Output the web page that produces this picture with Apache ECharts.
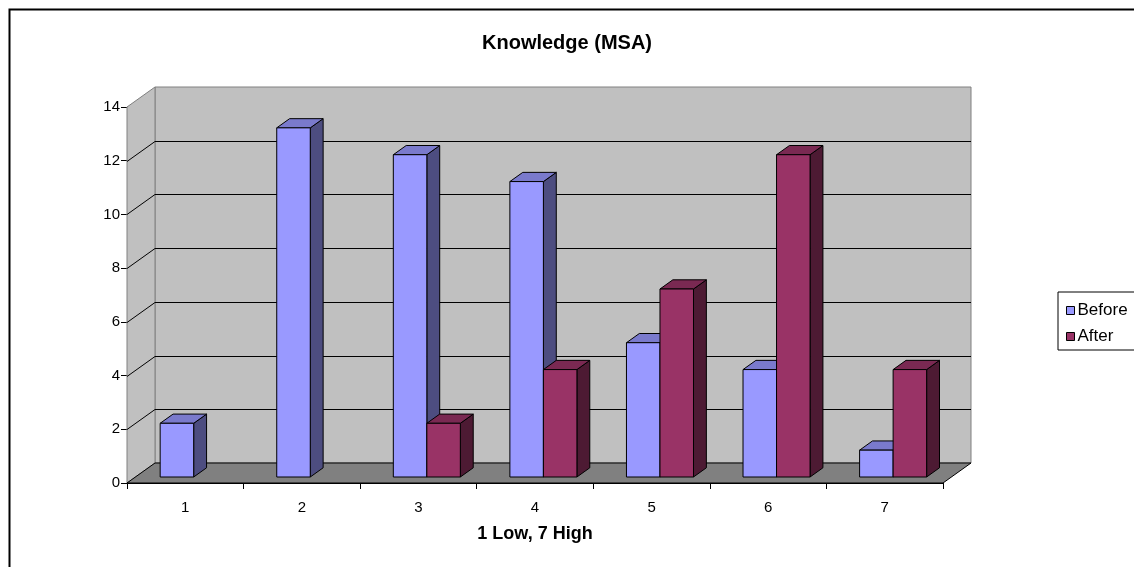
<!DOCTYPE html>
<html>
<head>
<meta charset="utf-8">
<script src="https://cdn.jsdelivr.net/npm/echarts@6/dist/echarts.min.js"></script>
<style>
  html, body { margin: 0; padding: 0; background: #fff; }
  #chart { width: 1134px; height: 567px; }
</style>
</head>
<body>
<div id="chart"></div>
<script>
// Ratings 1..7 and number of answers before / after the course
const categories = ['1', '2', '3', '4', '5', '6', '7'];
const beforeValues = [2, 13, 12, 11, 5, 4, 1];
const afterValues = [0, 0, 2, 4, 7, 12, 4];
const yTicks = [0, 2, 4, 6, 8, 10, 12, 14];

// Depth of the box (back wall offset from the front plane)
const DEPTH_X = 28, DEPTH_Y = -20;
// Bars sit 30% into the box and are 46% of it deep
const FRONT_F = 0.3, BAR_F = 0.46;

const FONT = '"Liberation Sans", Arial, sans-serif';

const colors = {
  Before: { front: '#9999ff', top: '#7a7acc', side: '#4d4d80' },
  After: { front: '#993366', top: '#7a2952', side: '#4d1a33' }
};

function wallRender(params, api) {
  const cs = params.coordSys;
  const x = cs.x, y = cs.y, w = cs.width, h = cs.height;
  const children = [];
  // back wall
  children.push({
    type: 'polygon',
    shape: { points: [[x + DEPTH_X, y + DEPTH_Y], [x + w + DEPTH_X, y + DEPTH_Y], [x + w + DEPTH_X, y + h + DEPTH_Y], [x + DEPTH_X, y + h + DEPTH_Y]] },
    style: { fill: '#c0c0c0', stroke: '#808080', lineWidth: 1 }
  });
  // side wall
  children.push({
    type: 'polygon',
    shape: { points: [[x, y], [x + DEPTH_X, y + DEPTH_Y], [x + DEPTH_X, y + h + DEPTH_Y], [x, y + h]] },
    style: { fill: '#c0c0c0', stroke: '#808080', lineWidth: 1 }
  });
  // floor
  children.push({
    type: 'polygon',
    shape: { points: [[x, y + h], [x + w, y + h], [x + w + DEPTH_X, y + h + DEPTH_Y], [x + DEPTH_X, y + h + DEPTH_Y]] },
    style: { fill: '#808080', stroke: '#000', lineWidth: 1 }
  });
  // grid lines on the walls
  yTicks.forEach(function (v) {
    if (v === yTicks[0] || v === yTicks[yTicks.length - 1]) return;
    const py = Math.round(api.coord([0, v])[1]) + 0.5;
    children.push({
      type: 'polyline',
      shape: { points: [[x, py], [x + DEPTH_X, py + DEPTH_Y], [x + w + DEPTH_X, py + DEPTH_Y]] },
      style: { stroke: '#000', lineWidth: 1, fill: null }
    });
  });
  return { type: 'group', children: children };
}

function barRender(seriesName, slot) {
  return function (params, api) {
    const idx = api.value(0);
    const val = api.value(1);
    if (!val) return null;
    const band = api.size([1, 0])[0];
    const barW = band * 0.2875;
    const top = api.coord([idx, val]);
    const base = api.coord([idx, 0]);
    const fx = FRONT_F * DEPTH_X, fy = FRONT_F * DEPTH_Y;
    const bx = BAR_F * DEPTH_X, by = BAR_F * DEPTH_Y;
    const x0 = top[0] - barW + fx + slot * barW;
    const x1 = x0 + barW;
    const yT = top[1] + fy;
    const yB = base[1] + fy;
    const c = colors[seriesName];
    const st = { stroke: '#000', lineWidth: 1, lineJoin: 'round' };
    return {
      type: 'group',
      children: [
        { type: 'polygon', shape: { points: [[x1, yT], [x1 + bx, yT + by], [x1 + bx, yB + by], [x1, yB]] }, style: Object.assign({ fill: c.side }, st) },
        { type: 'polygon', shape: { points: [[x0, yT], [x0 + bx, yT + by], [x1 + bx, yT + by], [x1, yT]] }, style: Object.assign({ fill: c.top }, st) },
        { type: 'rect', shape: { x: x0, y: yT, width: barW, height: yB - yT }, style: Object.assign({ fill: c.front }, st) }
      ]
    };
  };
}

const chart = echarts.init(document.getElementById('chart'), null, { renderer: 'canvas' });
chart.setOption({
  animation: false,
  backgroundColor: '#fff',
  graphic: [{
    type: 'rect', left: 7, top: 7, z: -10,
    shape: { x: 0, y: 0, width: 1200, height: 640 },
    style: { fill: null, stroke: '#000', lineWidth: 2 }
  }],
  title: {
    text: 'Knowledge (MSA)', left: 'center', top: 28,
    padding: [5, 5, 5, 21],
    textStyle: { fontFamily: FONT, fontSize: 20, fontWeight: 'bold', color: '#000' }
  },
  legend: {
    orient: 'vertical', left: 1058, top: 292,
    data: ['Before', 'After'],
    icon: 'rect', itemWidth: 8, itemHeight: 8, itemGap: 9,
    padding: [10, 30, 5, 8],
    borderColor: '#000', borderWidth: 1,
    itemStyle: { borderColor: '#000', borderWidth: 1 },
    textStyle: { fontFamily: FONT, fontSize: 17, lineHeight: 16, color: '#000', padding: [0, 0, 0, -2] }
  },
  grid: { left: 127, top: 107, width: 816, height: 376 },
  xAxis: {
    type: 'category', data: categories, boundaryGap: true,
    name: '1 Low, 7 High', nameLocation: 'middle', nameGap: 42,
    nameTextStyle: { fontFamily: FONT, fontSize: 18, fontWeight: 'bold', color: '#000' },
    axisLine: { lineStyle: { color: '#000', width: 1 } },
    axisTick: { show: true, length: 6, lineStyle: { color: '#000' } },
    axisLabel: { fontFamily: FONT, fontSize: 15, color: '#000', margin: 17 },
    splitLine: { show: false }
  },
  yAxis: {
    type: 'value', min: 0, max: 14, interval: 2,
    axisLine: { show: true, lineStyle: { color: '#000', width: 1 } },
    axisTick: { show: true, length: 6, lineStyle: { color: '#000' } },
    axisLabel: { fontFamily: FONT, fontSize: 15, color: '#000', margin: 7 },
    splitLine: { show: false }
  },
  series: [
    { type: 'custom', name: 'walls', z: 1, silent: true, renderItem: wallRender, data: [[0, 0]], legendHoverLink: false },
    { type: 'custom', name: 'Before', z: 2, itemStyle: { color: colors.Before.front }, renderItem: barRender('Before', 0),
      encode: { x: 0, y: 1 }, data: beforeValues.map((v, i) => [i, v]) },
    { type: 'custom', name: 'After', z: 3, itemStyle: { color: colors.After.front }, renderItem: barRender('After', 1),
      encode: { x: 0, y: 1 }, data: afterValues.map((v, i) => [i, v]) }
  ]
});
</script>
</body>
</html>
